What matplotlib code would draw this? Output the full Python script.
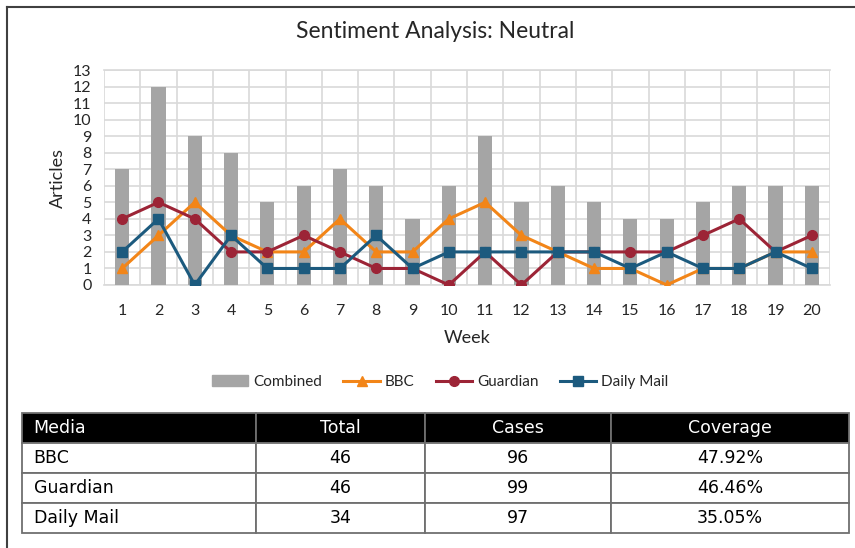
import matplotlib.pyplot as plt
from matplotlib.lines import Line2D
from matplotlib.patches import Patch

plt.rcParams['font.family'] = ['Lato', 'DejaVu Sans']

# weekly article counts
weeks = list(range(1, 21))
combined = [7, 12, 9, 8, 5, 6, 7, 6, 4, 6, 9, 5, 6, 5, 4, 4, 5, 6, 6, 6]
bbc = [1, 3, 5, 3, 2, 2, 4, 2, 2, 4, 5, 3, 2, 1, 1, 0, 1, 1, 2, 2]
guardian = [4, 5, 4, 2, 2, 3, 2, 1, 1, 0, 2, 0, 2, 2, 2, 2, 3, 4, 2, 3]
daily_mail = [2, 4, 0, 3, 1, 1, 1, 3, 1, 2, 2, 2, 2, 2, 1, 2, 1, 1, 2, 1]

# summary table
table_header = ["Media", "Total", "Cases", "Coverage"]
table_rows = [
    ["BBC", "46", "96", "47.92%"],
    ["Guardian", "46", "99", "46.46%"],
    ["Daily Mail", "34", "97", "35.05%"],
]

orange = '#f28518'
red = '#9c2436'
blue = '#1c5a7e'
grey = '#a5a5a5'

W, H = 855, 548
fig = plt.figure(figsize=(W / 100, H / 100), dpi=100)

# outer frame (only top and left edges visible)
fig.add_artist(Line2D([7 / W, 1], [1 - 7 / H, 1 - 7 / H], color='#404040', lw=1.5))
fig.add_artist(Line2D([7 / W, 7 / W], [0, 1 - 7 / H], color='#404040', lw=1.5))

ax = fig.add_axes([104 / W, 1 - 285 / H, 726 / W, 215 / H])
ax.bar(weeks, combined, width=0.39, color=grey, zorder=2, label='Combined')
ax.plot(weeks, bbc, color=orange, lw=2.2, marker='^', ms=7.5, zorder=3, label='BBC')
ax.plot(weeks, guardian, color=red, lw=2.2, marker='o', ms=7, zorder=4, label='Guardian')
ax.plot(weeks, daily_mail, color=blue, lw=2.2, marker='s', ms=6.5, zorder=5, label='Daily Mail')

ax.set_xlim(0.5, 20.5)
ax.set_ylim(0, 13)
ax.set_yticks(range(0, 14))
ax.set_xticks(weeks)
ax.set_xticks([w + 0.5 for w in range(0, 21)], minor=True)
ax.grid(axis='y', color='#d9d9d9', lw=1.2, zorder=0)
ax.grid(axis='x', which='minor', color='#d9d9d9', lw=1.2, zorder=0)
ax.tick_params(axis='both', which='both', length=0, labelsize=11.5, colors='#262626')
ax.tick_params(axis='x', pad=14)
ax.tick_params(axis='y', pad=9)
for s in ax.spines.values():
    s.set_visible(False)
for y in (0, 13):
    ax.axhline(y, color='#d9d9d9', lw=1.2, zorder=0, clip_on=False)

ax.set_xlabel('Week', fontsize=13, color='#262626', labelpad=8)
ax.set_ylabel('Articles', fontsize=13, color='#262626', labelpad=5)
fig.text(435 / W, 1 - 32 / H, 'Sentiment Analysis: Neutral', fontsize=16.5,
         ha='center', va='center', color='#262626')

handles = [Patch(color=grey, label='Combined'),
           Line2D([], [], color=orange, lw=2.2, marker='^', ms=7, label='BBC'),
           Line2D([], [], color=red, lw=2.2, marker='o', ms=7, label='Guardian'),
           Line2D([], [], color=blue, lw=2.2, marker='s', ms=6.5, label='Daily Mail')]
fig.legend(handles=handles, loc='center', bbox_to_anchor=(440 / W, 1 - 382 / H), ncol=4,
           frameon=False, fontsize=11, handlelength=2.4, columnspacing=1.4,
           handletextpad=0.3, labelcolor='#262626')

# table
tax = fig.add_axes([22 / W, 1 - 533 / H, 827 / W, 120 / H])
tax.axis('off')
col_px = [234, 169, 186, 238]
tbl = tax.table(cellText=table_rows, colLabels=table_header,
                colWidths=[c / sum(col_px) for c in col_px], bbox=[0, 0, 1, 1])
tbl.auto_set_font_size(False)
for (r, c), cell in tbl.get_celld().items():
    cell.set_edgecolor('#6f6f6f')
    cell.set_linewidth(1.3)
    txt = cell.get_text()
    txt.set_fontsize(12.5)
    txt.set_fontfamily('DejaVu Sans')
    if c == 0:
        cell._loc = 'left'
        txt.set_ha('left')
        cell.PAD = 0.05
    else:
        txt.set_ha('center')
    if r == 0:
        cell.set_facecolor('black')
        txt.set_color('white')
    else:
        txt.set_color('black')

fig.savefig('out.png', dpi=100)
